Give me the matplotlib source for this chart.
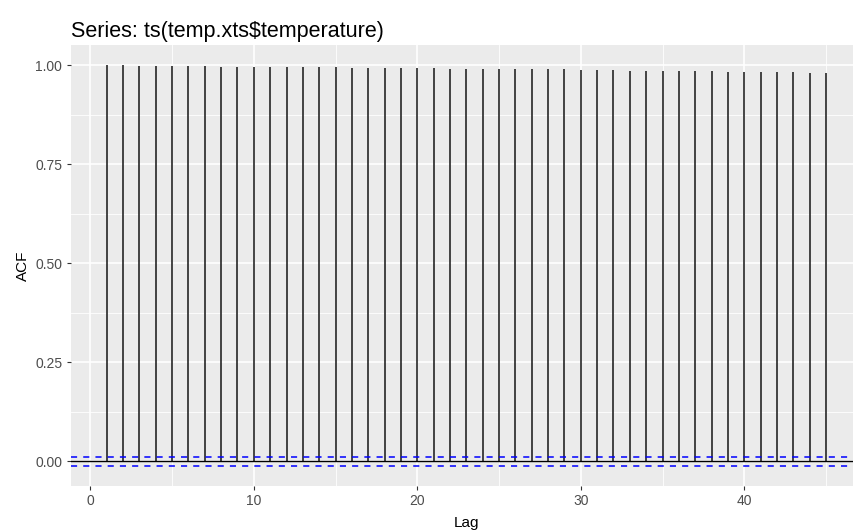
import matplotlib
matplotlib.use("Agg")
import matplotlib.pyplot as plt
import numpy as np

lags = list(range(1, 46))
acf = [0.999, 0.999, 0.998, 0.998, 0.998,
       0.997, 0.997, 0.996, 0.996, 0.996, 0.995, 0.995, 0.995,
       0.994, 0.994, 0.993, 0.993, 0.993, 0.992, 0.992, 0.992,
       0.991, 0.991, 0.990, 0.990, 0.990, 0.989, 0.989, 0.989, 0.988,
       0.987, 0.987, 0.986, 0.986, 0.986, 0.985, 0.985, 0.984,
       0.983, 0.983, 0.982, 0.982, 0.982, 0.981,
       0.980]
ci = 0.0106
title = "Series: ts(temp.xts$temperature)"
xticks = [0, 10, 20, 30, 40]
yticks = [0.00, 0.25, 0.50, 0.75, 1.00]
ytick_labels = ["0.00", "0.25", "0.50", "0.75", "1.00"]

plt.rcParams['font.family'] = ['Liberation Sans', 'DejaVu Sans']

fig = plt.figure(figsize=(8.54, 5.31), dpi=100)
ax = fig.add_axes([70.7/854, 1-485.7/531, 1-70.7/854 + 8/854, (485.7-45)/531])
ax.set_facecolor('#EBEBEB')
for s in ax.spines.values():
    s.set_visible(False)

ax.set_xlim(-1.2, 47.2)
ax.set_ylim(-0.0615, 1.0505)

# grid
for x in [5, 15, 25, 35, 45]:
    ax.axvline(x, color='white', lw=0.6, zorder=0)
for y in [0.125, 0.375, 0.625, 0.875]:
    ax.axhline(y, color='white', lw=0.6, zorder=0)
for x in xticks:
    ax.axvline(x, color='white', lw=1.2, zorder=0)
for y in yticks:
    ax.axhline(y, color='white', lw=1.2, zorder=0)

ax.vlines(lags, 0, acf, color='#262626', lw=1.2, zorder=2)
ax.axhline(0, color='black', lw=1.0, zorder=3)
ax.axhline(ci, color='#0000FF', lw=1.1, ls=(0, (4, 4)), zorder=3)
ax.axhline(-ci, color='#0000FF', lw=1.1, ls=(0, (4, 4)), zorder=3)

ax.set_xticks(xticks)
ax.set_yticks(yticks)
ax.set_yticklabels(ytick_labels)
ax.tick_params(axis='both', length=3, width=0.8, color='#333333',
               labelcolor='#4D4D4D', labelsize=10, pad=3)

ax.set_xlabel("Lag", fontsize=11, color='black', labelpad=5.5)
ax.set_ylabel("ACF", fontsize=11, color='black', labelpad=4)
ax.set_title(title, fontsize=15.5, loc='left', color='black', pad=6, x=0.0)

fig.savefig("out.png", dpi=100)
